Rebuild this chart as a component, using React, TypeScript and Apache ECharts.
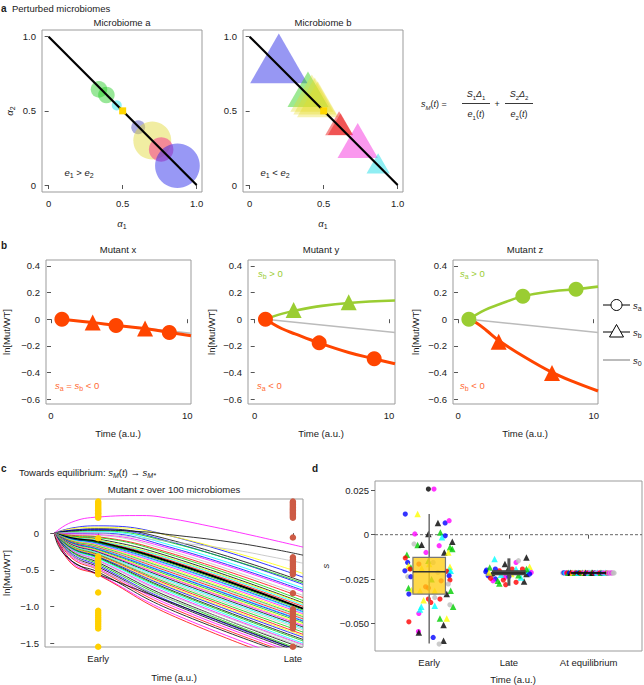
import React, { useEffect, useRef } from "react";
import * as echarts from "echarts";

const FF = '"Liberation Sans", Arial, Helvetica, sans-serif';
const MINUS = "\u2212";

// ---------------- Panel a: perturbed microbiomes ----------------
const diagLine = [[0, 1], [1, 0]];
const eqPoint = [[0.5, 0.5]];
// Microbiome a: circles (alpha1, alpha2, radius in alpha units)
const mbAx = [0.34, 0.39, 0.46, 0.605, 0.70, 0.76, 0.87];
const mbAy = [0.645, 0.607, 0.537, 0.39, 0.30, 0.24, 0.13];
const mbAr = [0.056, 0.056, 0.034, 0.047, 0.128, 0.083, 0.151];
const mbAcol = ["g", "g", "c", "p", "y", "m", "b"];
// Microbiome b: triangles (alpha1, alpha2, width in alpha units)
const mbBx = [0.197, 0.394, 0.42, 0.44, 0.46, 0.604, 0.614, 0.73, 0.868];
const mbBy = [0.854, 0.645, 0.62, 0.60, 0.578, 0.416, 0.41, 0.30, 0.146];
const mbBw = [0.387, 0.277, 0.29, 0.29, 0.28, 0.188, 0.17, 0.273, 0.157];
const mbBcol = ["b", "g", "y", "y", "y", "r", "r", "m", "c"];

// ---------------- Panel b: mutants ----------------
const mutX_s0 = [[0.8, 0], [10.27, -0.105]];
const mutX_line = [[0.8, 0], [3.06, -0.025], [4.77, -0.047], [6.9, -0.07], [8.68, -0.1], [10.27, -0.125]];
const mutX_circles = [[0.8, 0], [4.77, -0.047], [8.68, -0.1]];
const mutX_triangles = [[3.06, -0.025], [6.9, -0.07]];

const mutY_s0 = [[0.8, 0], [10.45, -0.1]];
const mutY_green = [[0.8, 0], [2, 0.04], [2.9, 0.062], [5, 0.1], [7, 0.122], [10.45, 0.14]];
const mutY_orange = [[0.8, 0], [2, -0.07], [3, -0.11], [4.8, -0.178], [7, -0.25], [8.9, -0.298], [10.45, -0.335]];
const mutY_triangles = [[2.9, 0.07], [7, 0.128]];
const mutY_circles = [[4.8, -0.178], [8.9, -0.298], [0.8, 0]];

const mutZ_s0 = [[0.8, 0], [10.32, -0.1]];
const mutZ_green = [[0.8, 0], [2, 0.07], [3, 0.11], [4.78, 0.172], [7, 0.21], [8.7, 0.226], [10.32, 0.245]];
const mutZ_orange = [[0.8, 0], [1.4, -0.03], [2.1, -0.085], [3, -0.16], [5, -0.29], [6.93, -0.4], [8.5, -0.47], [10.32, -0.54]];
const mutZ_triangles = [[3, -0.17], [6.93, -0.405]];
const mutZ_circles = [[4.78, 0.172], [8.7, 0.226], [0.8, 0]];

// ---------------- Panel c: 100 microbiomes ----------------
const cTimes = [0, 0.4, 1, 2.63, 5.66];
const curveAt04 = [0.07, 0.06, 0.04, 0.04, 0.02, 0.01, 0.0, -0.01, -0.02, -0.03, -0.04, -0.05, -0.05, -0.06, -0.07, -0.07, -0.08, -0.08, -0.09, -0.1, -0.1, -0.11, -0.12, -0.12, -0.13, -0.13, -0.14, -0.15, -0.15, -0.16, -0.17, -0.17, -0.18, -0.19, -0.19, -0.2, -0.21, -0.21, -0.22, -0.23, -0.24, -0.25, -0.26, -0.28, -0.3, -0.32, -0.34, -0.38, -0.4, -0.42];
const curveEarly = [0.1, 0.08, 0.06, 0.05, 0.03, 0.02, 0.0, -0.02, -0.03, -0.05, -0.06, -0.08, -0.09, -0.1, -0.11, -0.12, -0.13, -0.14, -0.15, -0.16, -0.17, -0.18, -0.19, -0.2, -0.21, -0.22, -0.23, -0.24, -0.25, -0.26, -0.27, -0.28, -0.29, -0.3, -0.31, -0.32, -0.33, -0.34, -0.35, -0.37, -0.38, -0.4, -0.42, -0.44, -0.46, -0.48, -0.5, -0.53, -0.56, -0.57];
const curveMid = [-0.035, -0.035, -0.09, -0.115, -0.125, -0.16, -0.19, -0.21, -0.24, -0.27, -0.29, -0.32, -0.34, -0.35, -0.37, -0.39, -0.41, -0.43, -0.44, -0.46, -0.48, -0.5, -0.51, -0.53, -0.55, -0.56, -0.58, -0.6, -0.61, -0.63, -0.65, -0.67, -0.69, -0.71, -0.73, -0.745, -0.77, -0.785, -0.805, -0.83, -0.845, -0.875, -0.9, -0.93, -0.95, -0.98, -1.01, -1.04, -1.08, -1.11];
const curveEnd = [-0.6, -0.55, -0.66, -0.7, -0.68, -0.75, -0.78, -0.8, -0.85, -0.88, -0.92, -0.95, -0.96, -0.98, -1.0, -1.03, -1.05, -1.07, -1.08, -1.1, -1.12, -1.14, -1.15, -1.17, -1.19, -1.2, -1.22, -1.24, -1.26, -1.28, -1.3, -1.32, -1.35, -1.38, -1.4, -1.42, -1.45, -1.47, -1.5, -1.52, -1.53, -1.57, -1.6, -1.62, -1.64, -1.67, -1.7, -1.72, -1.78, -1.82];
const curveColor = ["b", "y", "k", "b", "g", "c", "b", "m", "a", "r", "g", "k", "y", "c", "r", "k", "g", "b", "c", "m", "y", "g", "a", "r", "c", "b", "g", "y", "m", "k", "c", "a", "g", "r", "y", "b", "k", "g", "c", "m", "a", "k", "g", "b", "k", "m", "r", "k", "m", "r"];
const outlierCurves: { pts: number[][]; col: string }[] = [
  { pts: [[0, 0], [0.4, 0.15], [1, 0.22], [2, 0.24], [2.63, 0.2], [3.5, 0.1], [4.5, -0.03], [5.66, -0.19]], col: "m" },
  { pts: [[0, 0], [0.4, 0.03], [1, 0.04], [2, 0.02], [2.63, -0.02], [4, -0.12], [5, -0.22], [5.66, -0.3]], col: "k" },
  { pts: [[0, 0], [0.4, 0.01], [1, 0.0], [2, -0.07], [2.63, -0.115], [4, -0.22], [5, -0.33], [5.66, -0.41]], col: "a" },
  { pts: [[0, 0], [0.1, -0.18], [0.3, -0.33], [0.6, -0.45], [1, -0.56], [2.86, -0.99], [5.66, -1.62]], col: "k" },
  { pts: [[0, 0], [0.15, -0.15], [0.4, -0.3], [1, -0.5], [2.63, -0.9], [5.66, -1.55]], col: "a" },
];
const earlyT = 1;
const lateT = 5.43;
const earlyDotY = [0.43, 0.41, 0.39, 0.37, 0.35, 0.33, 0.31, 0.29, 0.27, 0.25, 0.23, 0.21, -0.07, -0.32, -0.35, -0.38, -0.41, -0.44, -0.47, -0.5, -0.53, -0.56, -0.81, -1.06, -1.09, -1.12, -1.15, -1.18, -1.21, -1.24, -1.27, -1.3, -1.55];
const lateDotY = [0.43, 0.41, 0.39, 0.37, 0.35, 0.33, 0.31, 0.29, 0.27, 0.25, 0.23, 0.21, -0.06, -0.33, -0.36, -0.39, -0.42, -0.45, -0.48, -0.51, -0.54, -0.56, -0.82, -1.04, -1.07, -1.1, -1.13, -1.16, -1.19, -1.22, -1.25, -1.28, -1.3, -1.55];

// ---------------- Panel d: selection coefficients ----------------
const dCategories = ["Early", "Late", "At equilibrium"];
const dEarly: [number, number, string][] = [
  [0.99, 0.0257, "ko"], [1.06, 0.0257, "mo"], [0.70, 0.0116, "bo"], [0.855, 0.0116, "y^"],
  [1.11, 0.0066, "k^"], [1.20, 0.0066, "bo"], [1.25, 0.0079, "mo"], [0.82, 0.0004, "mo"],
  [0.99, 0.0004, "k^"], [1.14, 0.0013, "g^"], [1.20, -0.0006, "bo"], [1.16, -0.0015, "c^"],
  [0.81, -0.0052, "ao"], [0.855, -0.0058, "g^"], [0.905, -0.0056, "k^"], [1.29, -0.0039, "k^"],
  [1.125, -0.0062, "mo"], [1.26, -0.0071, "g^"], [1.29, -0.0081, "g^"], [1.19, -0.01, "k^"],
  [1.24, -0.01, "y^"], [0.96, -0.01, "mo"], [0.72, -0.0113, "g^"], [0.70, -0.0131, "ro"],
  [0.73, -0.0156, "bo"], [0.74, -0.0174, "y^"], [0.77, -0.0184, "g^"], [0.695, -0.0203, "bo"],
  [0.76, -0.0193, "ro"], [1.26, -0.018, "y^"], [1.25, -0.0199, "c^"], [1.22, -0.0206, "ro"],
  [1.27, -0.0203, "c^"], [0.73, -0.0236, "ao"], [0.77, -0.0236, "bo"], [1.25, -0.0231, "bo"],
  [1.26, -0.0255, "ro"], [1.24, -0.0277, "ao"], [0.74, -0.03, "g^"], [0.78, -0.0311, "y^"],
  [0.745, -0.0334, "bo"], [1.27, -0.0315, "g^"], [1.22, -0.0334, "k^"], [0.99, -0.0362, "ro"],
  [1.135, -0.0362, "ro"], [0.93, -0.0368, "y^"], [1.07, -0.0353, "ao"], [1.02, -0.0381, "ro"],
  [0.90, -0.0405, "c^"], [1.07, -0.04, "c^"], [1.26, -0.0394, "ao"], [1.30, -0.0405, "g^"],
  [0.87, -0.0443, "mo"], [0.885, -0.042, "c^"], [1.135, -0.0471, "g^"], [1.22, -0.0471, "y^"],
  [0.745, -0.049, "ro"], [1.18, -0.0508, "k^"], [0.865, -0.0545, "mo"], [0.87, -0.055, "k^"],
  [1.05, -0.0578, "bo"], [1.18, -0.0597, "k^"], [1.125, -0.0615, "ao"],
  [0.99, -0.0146, "g^"], [1.05, -0.0156, "ao"], [0.905, -0.0188, "y^"], [1.03, -0.025, "g^"],
  [0.955, -0.0293, "ro"], [0.99, -0.03, "ro"], [0.885, -0.0315, "y^"], [1.07, -0.0315, "y^"],
  [1.11, -0.0212, "ao"], [1.15, -0.0259, "ro"], [0.87, -0.0165, "ro"], [1.0, -0.0165, "y^"],
];
const dLate: [number, number, string][] = [
  [1.82, -0.0137, "c^"], [2.22, -0.0128, "k^"], [2.26, -0.018, "y^"], [1.95, -0.0165, "k^"], [2.09, -0.0156, "mo"], [2.12, -0.0146, "ao"],
  [2.04, -0.0193, "ro"], [1.72, -0.0199, "bo"], [1.76, -0.0184, "g^"], [1.71, -0.0208, "bo"], [1.74, -0.0231, "bo"], [1.80, -0.0221, "ko"],
  [1.83, -0.0249, "bo"], [1.88, -0.0203, "ro"], [1.95, -0.024, "mo"], [1.93, -0.0255, "ro"], [1.80, -0.0259, "mo"], [1.86, -0.0259, "g^"],
  [1.88, -0.0274, "g^"], [1.96, -0.0281, "ro"], [2.09, -0.0268, "ro"], [2.19, -0.0263, "k^"], [2.15, -0.024, "c^"], [2.22, -0.0221, "k^"],
  [2.25, -0.0203, "c^"], [2.28, -0.0212, "mo"], [2.26, -0.0221, "bo"], [2.03, -0.0221, "y^"], [1.99, -0.0193, "k^"], [2.17, -0.0193, "ro"],
  [1.75, -0.0212, "y^"], [2.09, -0.0193, "c^"], [2.22, -0.0193, "g^"], [1.83, -0.0193, "bo"], [1.90, -0.0225, "c^"], [2.0, -0.0235, "bo"],
  [2.12, -0.0228, "g^"], [1.77, -0.0245, "ro"],
];
const dEq: [number, number, string][] = [
  [2.675, -0.0215, "ao"], [2.69, -0.0214, "bo"], [2.705, -0.0216, "co"], [2.72, -0.0215, "mo"], [2.73, -0.0215, "ro"],
  [2.745, -0.0214, "g^"], [2.76, -0.0216, "bo"], [2.775, -0.0214, "k^"], [2.79, -0.0215, "ro"], [2.80, -0.0214, "y^"],
  [2.815, -0.0216, "mo"], [2.83, -0.0214, "g^"], [2.845, -0.0215, "ro"], [2.86, -0.0216, "bo"], [2.87, -0.0214, "c^"],
  [2.885, -0.0215, "ko"], [2.90, -0.0216, "ro"], [2.92, -0.0214, "g^"], [2.935, -0.0215, "mo"], [2.95, -0.0214, "y^"],
  [2.96, -0.0214, "k^"], [2.975, -0.0216, "bo"], [2.99, -0.0215, "ro"], [3.005, -0.0214, "c^"], [3.02, -0.0216, "mo"],
  [3.035, -0.0214, "g^"], [3.05, -0.0214, "k^"], [3.065, -0.0216, "ro"], [3.08, -0.0215, "bo"], [3.095, -0.0215, "ao"],
  [3.11, -0.0214, "c^"], [3.125, -0.0216, "mo"], [3.14, -0.0215, "ro"], [3.155, -0.0214, "g^"], [3.17, -0.0216, "bo"],
  [3.185, -0.0215, "ao"], [3.20, -0.0216, "mo"], [3.215, -0.0214, "c^"], [3.23, -0.0215, "ro"], [3.245, -0.0215, "ao"],
  [3.26, -0.0216, "mo"], [3.275, -0.0215, "ao"], [3.29, -0.0215, "mo"], [3.305, -0.0215, "ao"], [3.32, -0.0215, "ao"],
];
// [x, lower whisker, Q1, median, Q3, upper whisker]
const dBoxStats = [
  [1, -0.0612, -0.0334, -0.0208, -0.0128, 0.0116],
  [2, -0.0287, -0.0225, -0.0215, -0.0203, -0.0133],
  [3, -0.0215, -0.0215, -0.0215, -0.0215, -0.0215],
];
const zeroLine = [[0.32, 0], [3.67, 0]];

// ---------------- styles ----------------
const PAL: Record<string, string> = { k: "#000000", r: "#ff0000", g: "#00cd00", b: "#0000ff", c: "#00ffff", m: "#ff00ff", y: "#ffff00", a: "#bebebe" };
const BUB: Record<string, string> = { g: "rgba(40,205,40,0.6)", c: "rgba(30,225,235,0.6)", p: "rgba(80,80,190,0.6)", y: "rgba(225,218,60,0.6)", m: "rgba(245,30,140,0.6)", b: "rgba(40,40,235,0.6)" };
const TRI: Record<string, string> = { b: "rgba(45,45,230,0.62)", g: "rgba(50,210,30,0.6)", y: "rgba(230,220,40,0.45)", r: "rgba(235,20,20,0.6)", m: "rgba(245,40,220,0.6)", c: "rgba(30,220,230,0.62)" };
const ORANGE = "#ff4500";
const GREEN = "#9acd32";
const ORANGE_T = "#ff6a33";
const boxStyles = [
  { hw: 0.204, fill: "rgba(255,205,20,0.78)", stroke: "#777", whisker: "#777", ww: 1.6, med: "#333" },
  { hw: 0.204, fill: "#555", stroke: "#444", whisker: "#555", ww: 3, med: "#222" },
  { hw: 0.22, fill: "none", stroke: "#111", whisker: "#111", ww: 1, med: "#111" },
];

const grids = [
  { left: 42, top: 30, width: 160, height: 162 },
  { left: 243, top: 30, width: 160, height: 162 },
  { left: 46, top: 260, width: 145, height: 144 },
  { left: 248, top: 260, width: 147, height: 144 },
  { left: 453, top: 260, width: 145, height: 144 },
  { left: 45, top: 499, width: 258, height: 148 },
  { left: 375, top: 481, width: 267, height: 170 },
].map((g) => ({ ...g, show: true, borderColor: "#9b9b9b", borderWidth: 1, backgroundColor: "transparent", containLabel: false, outerBoundsMode: "none" }));

const fmtNum = (d: number) => (v: number) => (Math.abs(v) < 1e-9 ? "0" : (v < 0 ? MINUS : "") + Math.abs(v).toFixed(d));

function axis(gi: number, min: number, max: number, ticks: number[], fmt: (v: number) => string) {
  return {
    type: "value",
    gridIndex: gi,
    min,
    max,
    axisLine: { show: false },
    axisTick: { show: true, length: 4, customValues: ticks, lineStyle: { color: "#555", width: 1 } },
    axisLabel: { customValues: ticks, formatter: fmt, color: "#222", fontSize: 9.5, fontFamily: FF, margin: 6 },
    splitLine: { show: false },
  };
}

const aXmin = -0.045, aXmax = 1.036, aYmin = -0.047, aYmax = 1.045;
const fmtA = (v: number) => (v === 0 ? "0" : v.toFixed(1));
const bTicksY = [-0.6, -0.4, -0.2, 0, 0.2, 0.4];

const xAxes = [
  axis(0, aXmin, aXmax, [0, 0.5, 1], fmtA),
  axis(1, aXmin, aXmax, [0, 0.5, 1], fmtA),
  axis(2, -0.367, 10.27, [0, 10], (v) => String(v)),
  axis(3, -0.5, 10.45, [0, 10], (v) => String(v)),
  axis(4, -0.37, 10.32, [0, 10], (v) => String(v)),
  axis(5, -0.21, 5.66, [earlyT, lateT], (v) => (v < 3 ? "Early" : "Late")),
  axis(6, 0.32, 3.67, [1, 2, 3], (v) => dCategories[Math.round(v) - 1]),
];
const yAxes = [
  axis(0, aYmin, aYmax, [0, 0.5, 1], fmtA),
  axis(1, aYmin, aYmax, [0, 0.5, 1], fmtA),
  axis(2, -0.6375, 0.445, bTicksY, fmtNum(1)),
  axis(3, -0.6375, 0.445, bTicksY, fmtNum(1)),
  axis(4, -0.6375, 0.445, bTicksY, fmtNum(1)),
  axis(5, -1.553, 0.466, [-1.5, -1, -0.5, 0], fmtNum(1)),
  axis(6, -0.0654, 0.0302, [-0.05, -0.025, 0, 0.025], fmtNum(3)),
];

const pxPerAlpha = 160 / (aXmax - aXmin);

function lineS(gi: number, data: number[][], color: string, width: number, z = 2, smooth = 0.4) {
  return { type: "line", xAxisIndex: gi, yAxisIndex: gi, data, symbol: "none", smooth, lineStyle: { color, width }, z, silent: true };
}
function markS(gi: number, data: number[][], color: string, symbol: string, size: number, z = 5) {
  return { type: "scatter", xAxisIndex: gi, yAxisIndex: gi, data, symbol, symbolSize: size, itemStyle: { color, opacity: 1 }, z, silent: true };
}
function ptItems(pts: [number, number, string][]) {
  return pts.map(([x, y, k]) => ({
    value: [x, y],
    symbol: k[1] === "^" ? "triangle" : "circle",
    symbolSize: k[1] === "^" ? 6.5 : 5.2,
    itemStyle: { color: PAL[k[0]] },
  }));
}

function buildSeries() {
  const s: any[] = [];
  // panel a, microbiome a
  s.push({
    type: "scatter", xAxisIndex: 0, yAxisIndex: 0, silent: true, z: 2,
    data: mbAx.map((x, i) => ({ value: [x, mbAy[i]], symbolSize: 2 * mbAr[i] * pxPerAlpha, itemStyle: { color: BUB[mbAcol[i]] } })),
  });
  s.push({ type: "line", xAxisIndex: 0, yAxisIndex: 0, data: diagLine, symbol: "none", lineStyle: { color: "#000", width: 2.2 }, z: 3, silent: true });
  s.push(markS(0, eqPoint, "#ffd700", "rect", 7, 4));
  // microbiome b
  s.push({
    type: "scatter", xAxisIndex: 1, yAxisIndex: 1, silent: true, z: 2,
    data: mbBx.map((x, i) => ({ value: [x, mbBy[i]], symbol: "triangle", symbolSize: [mbBw[i] * pxPerAlpha, mbBw[i] * 0.866 * pxPerAlpha], itemStyle: { color: TRI[mbBcol[i]] } })),
  });
  s.push({ type: "line", xAxisIndex: 1, yAxisIndex: 1, data: diagLine, symbol: "none", lineStyle: { color: "#000", width: 2.2 }, z: 3, silent: true });
  s.push(markS(1, eqPoint, "#ffd700", "rect", 7, 4));

  // panel b
  s.push(lineS(2, mutX_s0, "#bbbbbb", 1.5, 1));
  s.push(lineS(2, mutX_line, ORANGE, 3, 2));
  s.push(markS(2, mutX_circles, ORANGE, "circle", 15));
  s.push(markS(2, mutX_triangles, ORANGE, "triangle", 16));

  s.push(lineS(3, mutY_s0, "#bbbbbb", 1.5, 1));
  s.push(lineS(3, mutY_green, GREEN, 2.6, 2));
  s.push(lineS(3, mutY_orange, ORANGE, 3, 2));
  s.push(markS(3, mutY_triangles, GREEN, "triangle", 16));
  s.push(markS(3, mutY_circles, ORANGE, "circle", 15));

  s.push(lineS(4, mutZ_s0, "#bbbbbb", 1.5, 1));
  s.push(lineS(4, mutZ_orange, ORANGE, 3, 2));
  s.push(lineS(4, mutZ_green, GREEN, 2.6, 2));
  s.push(markS(4, mutZ_triangles, ORANGE, "triangle", 16));
  s.push(markS(4, mutZ_circles, GREEN, "circle", 15));

  // panel c
  curveEarly.forEach((e, i) => {
    const ys = [0, curveAt04[i], e, curveMid[i], curveEnd[i]];
    const pts = cTimes.map((t, j) => [t, ys[j]]);
    s.push(lineS(5, pts, PAL[curveColor[i]], i === 15 ? 2 : 0.8, 2, 0.45));
  });
  outlierCurves.forEach((c) => s.push(lineS(5, c.pts, PAL[c.col], 0.8, 2, 0.45)));
  s.push(markS(5, earlyDotY.map((y) => [earlyT, y]), "#ffd000", "circle", 6.5, 6));
  s.push(markS(5, lateDotY.map((y) => [lateT, y]), "#cd5b45", "circle", 6.5, 6));

  // panel d
  s.push({ type: "line", xAxisIndex: 6, yAxisIndex: 6, data: zeroLine, symbol: "none", lineStyle: { color: "#666", width: 1, type: [3, 2] }, z: 1, silent: true });
  s.push({ type: "scatter", xAxisIndex: 6, yAxisIndex: 6, data: ptItems(dEarly), z: 3, silent: true });
  s.push({ type: "scatter", xAxisIndex: 6, yAxisIndex: 6, data: ptItems(dLate), z: 3, silent: true });
  s.push({ type: "scatter", xAxisIndex: 6, yAxisIndex: 6, data: ptItems(dEq), z: 3, silent: true });
  s.push({
    type: "custom", xAxisIndex: 6, yAxisIndex: 6, z: 4, silent: true,
    data: dBoxStats,
    renderItem: (params: any, api: any) => {
      const st = boxStyles[params.dataIndex];
      const x = api.value(0);
      const lo = api.value(1), q1 = api.value(2), med = api.value(3), q3 = api.value(4), hi = api.value(5);
      const pTop = api.coord([x, hi]);
      const pBot = api.coord([x, lo]);
      const b1 = api.coord([x - st.hw, q3]);
      const b2 = api.coord([x + st.hw, q1]);
      const m1 = api.coord([x - st.hw, med]);
      const m2 = api.coord([x + st.hw, med]);
      return {
        type: "group",
        children: [
          { type: "line", shape: { x1: pTop[0], y1: pTop[1], x2: pBot[0], y2: pBot[1] }, style: { stroke: st.whisker, lineWidth: st.ww } },
          { type: "rect", shape: { x: b1[0], y: b1[1], width: b2[0] - b1[0], height: b2[1] - b1[1] }, style: { fill: st.fill, stroke: st.stroke, lineWidth: 1.2 } },
          { type: "line", shape: { x1: m1[0], y1: m1[1], x2: m2[0], y2: m2[1] }, style: { stroke: st.med, lineWidth: 1.5 } },
        ],
      };
    },
  });
  return s;
}

// ---------------- texts ----------------
function rich(size: number, color: string) {
  const sub = Math.round(size * 0.72);
  return {
    n: { fontSize: size, fontFamily: FF, fill: color, lineHeight: size + 4 },
    i: { fontSize: size, fontFamily: FF, fontStyle: "italic", fill: color, lineHeight: size + 4 },
    s: { fontSize: sub, fontFamily: FF, fill: color, lineHeight: 4, verticalAlign: "bottom" },
    si: { fontSize: sub, fontFamily: FF, fontStyle: "italic", fill: color, lineHeight: 4, verticalAlign: "bottom" },
  };
}
function T(text: string, x: number, y: number, o: any = {}) {
  const size = o.size ?? 9.5;
  const color = o.color ?? "#1a1a1a";
  const align = o.align ?? "center";
  const style: any = {
    text, x: 0, y: 0, fill: color, fontSize: size, fontFamily: FF,
    fontStyle: o.italic ? "italic" : "normal", fontWeight: o.bold ? "bold" : "normal",
    align, verticalAlign: "middle", textAlign: align, textVerticalAlign: "middle", lineHeight: size + 4,
  };
  if (o.rich) style.rich = rich(size, color);
  return { type: "text", x, y, rotation: o.rot ?? 0, z: 100, silent: true, style };
}
function L(x1: number, y1: number, x2: number, y2: number, stroke: string, lw: number) {
  return { type: "line", z: 100, silent: true, shape: { x1, y1, x2, y2 }, style: { stroke, lineWidth: lw } };
}

const graphics: any[] = [
  // panel a
  T("a", 1, 8, { bold: true, size: 10, align: "left" }),
  T("Perturbed microbiomes", 12, 8, { align: "left" }),
  T("Microbiome a", 122, 22),
  T("Microbiome b", 323, 22),
  T("{i|α}{s|2}", 9, 111, { rich: true, rot: Math.PI / 2 }),
  T("{i|α}{s|1}", 122, 223, { rich: true }),
  T("{i|α}{s|1}", 323, 223, { rich: true }),
  T("{i|e}{s|1}{n| > }{i|e}{s|2}", 79, 172, { rich: true }),
  T("{i|e}{s|1}{n| < }{i|e}{s|2}", 275, 172, { rich: true }),
  // formula
  T("{i|s}{si|M}{n|(}{i|t}{n|) =}", 421, 104, { rich: true, align: "left", size: 9 }),
  T("{i|S}{s|1}{i|Δ}{s|1}", 476, 94, { rich: true, size: 9 }),
  L(462, 103.5, 490, 103.5, "#222", 0.9),
  T("{i|e}{s|1}{n|(}{i|t}{n|)}", 476, 114, { rich: true, size: 9 }),
  T("+", 497, 104, { size: 9 }),
  T("{i|S}{s|2}{i|Δ}{s|2}", 519, 94, { rich: true, size: 9 }),
  L(505, 103.5, 533, 103.5, "#222", 0.9),
  T("{i|e}{s|2}{n|(}{i|t}{n|)}", 519, 114, { rich: true, size: 9 }),
  // panel b
  T("b", 1, 245, { bold: true, size: 10, align: "left" }),
  T("Mutant x", 118, 249),
  T("Mutant y", 321, 249),
  T("Mutant z", 525, 249),
  T("ln[Mut/WT]", 6, 332, { rot: Math.PI / 2 }),
  T("ln[Mut/WT]", 211, 332, { rot: Math.PI / 2 }),
  T("ln[Mut/WT]", 415, 332, { rot: Math.PI / 2 }),
  T("Time (a.u.)", 118, 433),
  T("Time (a.u.)", 321, 433),
  T("Time (a.u.)", 525, 433),
  T("{i|s}{s|a}{n| = }{i|s}{s|b}{n| < 0}", 55, 385, { rich: true, align: "left", color: ORANGE_T }),
  T("{i|s}{s|b}{n| > 0}", 258, 273, { rich: true, align: "left", color: GREEN }),
  T("{i|s}{s|a}{n| < 0}", 257, 385, { rich: true, align: "left", color: ORANGE_T }),
  T("{i|s}{s|a}{n| > 0}", 460, 273, { rich: true, align: "left", color: GREEN }),
  T("{i|s}{s|b}{n| < 0}", 460, 385, { rich: true, align: "left", color: ORANGE_T }),
  // legend
  L(603, 305, 630, 305, "#000", 1),
  { type: "circle", z: 101, silent: true, shape: { cx: 616.5, cy: 305, r: 5.5 }, style: { fill: "#fff", stroke: "#000", lineWidth: 1 } },
  L(603, 332, 630, 332, "#000", 1),
  { type: "polygon", z: 101, silent: true, shape: { points: [[616.5, 324.5], [609.5, 337], [623.5, 337]] }, style: { fill: "#fff", stroke: "#000", lineWidth: 1 } },
  L(603, 360, 630, 360, "#bbbbbb", 2),
  T("{i|s}{s|a}", 633, 305, { rich: true, align: "left", size: 9.5 }),
  T("{i|s}{s|b}", 633, 332, { rich: true, align: "left", size: 9.5 }),
  T("{i|s}{s|0}", 633, 360, { rich: true, align: "left", size: 9.5 }),
  // panel c
  T("c", 1, 468, { bold: true, size: 10, align: "left" }),
  T("{n|Towards equilibrium: }{i|s}{si|M}{n|(}{i|t}{n|) → }{i|s}{si|M*}", 19, 472, { rich: true, align: "left" }),
  T("Mutant z over 100 microbiomes", 174, 489),
  T("ln[Mut/WT]", 6, 573, { rot: Math.PI / 2 }),
  T("Time (a.u.)", 174, 677),
  // panel d
  T("d", 312, 468, { bold: true, size: 10, align: "left" }),
  T("s", 325, 566, { italic: true, rot: Math.PI / 2 }),
  T("Time (a.u.)", 513, 679),
];

export default function App() {
  const ref = useRef<HTMLDivElement>(null);
  useEffect(() => {
    document.body.style.margin = "0";
    const chart = echarts.init(ref.current as HTMLDivElement, null, { renderer: "svg" });
    chart.setOption({
      animation: false,
      backgroundColor: "#ffffff",
      textStyle: { fontFamily: FF },
      grid: grids,
      xAxis: xAxes,
      yAxis: yAxes,
      series: buildSeries(),
      graphic: { elements: graphics },
    } as any);
    return () => chart.dispose();
  }, []);
  return <div ref={ref} style={{ width: 644, height: 685, position: "absolute", left: 0, top: 0 }} />;
}
